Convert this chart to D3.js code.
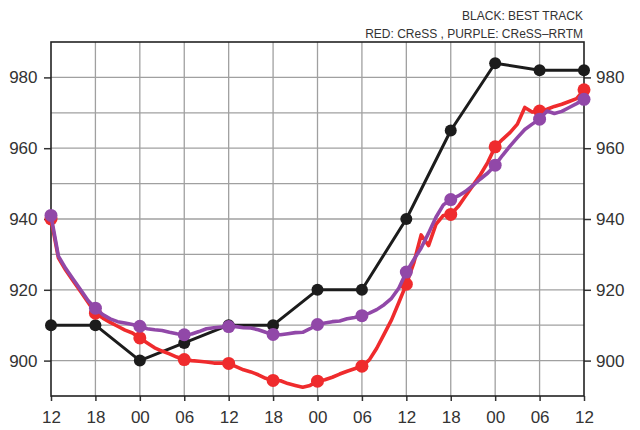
<!DOCTYPE html>
<html>
<head>
<meta charset="utf-8">
<script src="https://cdn.jsdelivr.net/npm/d3@7"></script>
<style>
body{margin:0;background:#fff;}
svg{display:block;font-family:"Liberation Sans",Arial,sans-serif;}
</style>
</head>
<body>
<svg id="chart"></svg>
<script>
let width=640;
let height=430;
let padLeft=51, padRight=584, padTop=42, padBottom=396;

// 6-hourly tick labels (hours since start: 0,6,...,72)
let tickLabels=['12','18','00','06','12','18','00','06','12','18','00','06','12'];
let yTicks=[900,920,940,960,980];

// best track, every 6 h
let bestTrack=[910,910,900,905,910,910,920,920,940,965,984,982,982];

// CReSS, hourly
let cress=[940,929,925.5,922.5,919.5,916.5,913.4,912,910.8,909.7,908.6,907.8,
  906.4,905,903.6,902.7,901.9,901,900.3,900,899.8,899.6,899.3,899.3,
  899.2,898.3,897.4,896.8,896,895,894.4,894.3,893.5,893,892.5,893,
  894.2,894.6,895.3,896.2,897,897.7,898.4,900.2,903.5,907.5,911.5,916.5,
  921.6,927.5,935.5,932.5,938.5,941,941.3,943.5,946.5,949.5,952.5,956,
  960.4,962.5,964.4,966.8,971.5,970.2,970.5,971,971.8,972.4,973.2,974,976.5];

// CReSS-RRTM, hourly
let rrtm=[941,929.5,926,923,920,917,914.8,913,911.8,911,910.6,910.2,
  909.7,909,908.7,908.5,908,907.6,907.3,907.5,908.2,909,909.3,909.5,
  909.6,909.6,909.3,909.2,908.7,908,907.4,907.3,907.6,907.9,908,909,
  910.2,910.6,911,911.2,911.8,912.2,912.7,913.4,914.4,915.8,917.6,920.5,
  925,928.5,931.8,936,940.5,944,945.5,946.5,947.8,949.5,951.3,953,
  955.2,958,960.6,963,965.3,966.8,968.2,970.5,969.8,970.4,971.5,972.6,973.8];

let svg=d3.select('#chart').attr('width',width).attr('height',height);

let xScale=d3.scaleLinear().domain([0,72]).range([padLeft,padRight]);
let yScale=d3.scaleLinear().domain([890,990]).range([padBottom,padTop]);

// grid
let grid=svg.append('g').attr('stroke','#a0a0a0').attr('stroke-width',1.3);
grid.selectAll('.vg').data(d3.range(6,72,6)).enter().append('line')
  .attr('x1',d=>xScale(d)).attr('x2',d=>xScale(d))
  .attr('y1',padTop).attr('y2',padBottom);
grid.selectAll('.hg').data(d3.range(900,990,10)).enter().append('line')
  .attr('x1',padLeft).attr('x2',padRight)
  .attr('y1',d=>yScale(d)).attr('y2',d=>yScale(d));

// axes
let xAxis=d3.axisBottom(xScale)
  .tickValues(d3.range(0,73,6))
  .tickFormat((d,i)=>tickLabels[i])
  .tickSize(5).tickSizeOuter(0).tickPadding(10);
let gx=svg.append('g').attr('transform','translate(0,'+padBottom+')').call(xAxis);

let yAxisL=d3.axisLeft(yScale).tickValues(yTicks).tickSize(7).tickSizeOuter(0).tickPadding(6.5);
let gyl=svg.append('g').attr('transform','translate('+padLeft+',0)').call(yAxisL);
let yAxisR=d3.axisRight(yScale).tickValues(yTicks).tickSize(7).tickSizeOuter(0).tickPadding(5);
let gyr=svg.append('g').attr('transform','translate('+padRight+',0)').call(yAxisR);

[gx,gyl,gyr].forEach(g=>{
  g.select('.domain').remove();
  g.selectAll('line').attr('stroke','#333').attr('stroke-width',1.5);
  g.selectAll('text').attr('fill','#333').style('font-size','17px')
   .style('font-family','"Liberation Sans",Arial,sans-serif');
});

svg.append('rect').attr('x',padLeft).attr('y',padTop)
  .attr('width',padRight-padLeft).attr('height',padBottom-padTop)
  .attr('fill','none').attr('stroke','#222').attr('stroke-width',1.6);

// series
let line=d3.line().x(d=>xScale(d.h)).y(d=>yScale(d.v));

let series=[
  {vals:bestTrack.map((v,i)=>({h:i*6,v:v})),color:'#1c1c1c',w:3,r:6},
  {vals:cress.map((v,i)=>({h:i,v:v})),color:'#ef2b2d',w:3.6,r:6.5},
  {vals:rrtm.map((v,i)=>({h:i,v:v})),color:'#9148a8',w:3.6,r:6.5}
];

series.forEach(s=>{
  svg.append('path').datum(s.vals).attr('d',line)
    .attr('fill','none').attr('stroke',s.color).attr('stroke-width',s.w)
    .attr('stroke-linejoin','round').attr('stroke-linecap','round');
  svg.append('g').selectAll('circle')
    .data(s.vals.filter(d=>d.h%6===0)).enter().append('circle')
    .attr('cx',d=>xScale(d.h)).attr('cy',d=>yScale(d.v))
    .attr('r',s.r).attr('fill',s.color);
});

// legend
svg.append('text').attr('x',583).attr('y',20).attr('text-anchor','end')
  .attr('fill','#333').style('font-size','12px').text('BLACK: BEST TRACK');
svg.append('text').attr('x',583).attr('y',38).attr('text-anchor','end')
  .attr('fill','#333').style('font-size','12px').text('RED: CReSS , PURPLE: CReSS\u2013RRTM');
</script>
</body>
</html>
